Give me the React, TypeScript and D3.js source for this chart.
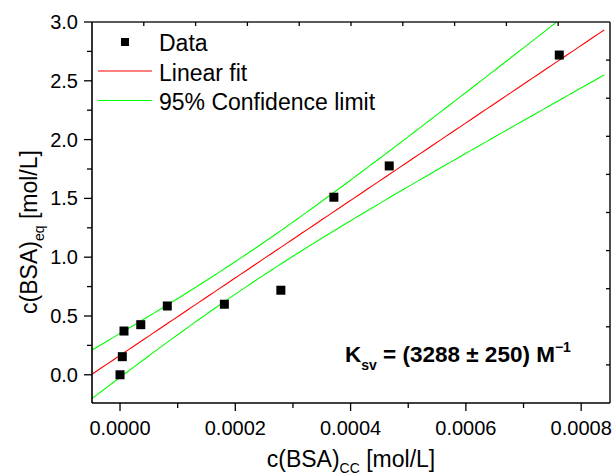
import React from "react";
import * as d3 from "d3";

// ---- data ----
const concCC: number[] = [0, 0.0000040, 0.0000069, 0.000036, 0.000082, 0.000181, 0.000279, 0.000371, 0.000467, 0.000762];
const concEq: number[] = [0.0, 0.154, 0.372, 0.426, 0.585, 0.600, 0.719, 1.510, 1.776, 2.719];
const xTicks: number[] = [0, 0.0002, 0.0004, 0.0006, 0.0008];
const xMinorTicks: number[] = [0.0001, 0.0003, 0.0005, 0.0007];
const yTicks: number[] = [0, 0.5, 1.0, 1.5, 2.0, 2.5, 3.0];
const yMinorTicks: number[] = [0.25, 0.75, 1.25, 1.75, 2.25, 2.75];
const fitRange: [number, number] = [-0.0000486, 0.00084];
const legendLabels: string[] = ["Data", "Linear fit", "95% Confidence limit"];
const T95_DF8 = 2.306;

const W = 612;
const H = 475;
const L = 92, R = 610, T = 22, B = 403;
const FONT = "'Liberation Sans', Arial, Helvetica, sans-serif";

// linear regression with 95% confidence band of the mean
function regression(xs: number[], ys: number[]) {
  const n = xs.length;
  const mx = d3.mean(xs)!;
  const my = d3.mean(ys)!;
  let sxx = 0, sxy = 0;
  xs.forEach((x, i) => { sxx += (x - mx) ** 2; sxy += (x - mx) * (ys[i] - my); });
  const b = sxy / sxx;
  const a = my - b * mx;
  let ssr = 0;
  xs.forEach((x, i) => { ssr += (ys[i] - a - b * x) ** 2; });
  const s = Math.sqrt(ssr / (n - 2));
  const half = (x: number) => T95_DF8 * s * Math.sqrt(1 / n + (x - mx) ** 2 / sxx);
  return { a, b, half };
}

export default function App() {
  const x = d3.scaleLinear().domain([-0.0000486, 0.00085]).range([L, R]);
  const y = d3.scaleLinear().domain([-0.24, 3.0]).range([B, T]);
  const reg = regression(concCC, concEq);
  const samples = d3.range(0, 101).map((i) => fitRange[0] + (fitRange[1] - fitRange[0]) * i / 100);
  const line = d3.line<[number, number]>().x((d) => x(d[0])).y((d) => y(d[1]));
  const fitPts = samples.map((v) => [v, reg.a + reg.b * v] as [number, number]);
  const upPts = samples.map((v) => [v, reg.a + reg.b * v + reg.half(v)] as [number, number]);
  const loPts = samples.map((v) => [v, reg.a + reg.b * v - reg.half(v)] as [number, number]);

  const topTicks = d3.range(1, 10).map((i) => L + (R - L) * i / 10);
  const rightTicks = d3.range(1, 10).map((i) => T + (B - T) * i / 10);
  const fx = d3.format(".4f");
  const fy = d3.format(".1f");
  const ms = 9;

  return (
    <svg width={W} height={H} style={{ position: "absolute", left: 0, top: 0, background: "#fff" }} fontFamily={FONT}>
      <defs>
        <clipPath id="plot"><rect x={L} y={T} width={R - L} height={B - T} /></clipPath>
      </defs>
      <rect x={0} y={0} width={W} height={H} fill="#fff" />

      {/* fit & confidence lines */}
      <g clipPath="url(#plot)" fill="none" strokeWidth={1.1}>
        <path d={line(upPts)!} stroke="#00ff00" />
        <path d={line(loPts)!} stroke="#00ff00" />
        <path d={line(fitPts)!} stroke="#ff0000" />
      </g>

      {/* data */}
      {concCC.map((c, i) => (
        <rect key={i} x={x(c) - ms / 2} y={y(concEq[i]) - ms / 2} width={ms} height={ms} fill="#000" />
      ))}

      {/* frame */}
      <g stroke="#000" strokeWidth={1.6} fill="none">
        <line x1={L} x2={R} y1={T} y2={T} stroke="#222" />
        <line x1={R} x2={R} y1={T} y2={B} stroke="#222" />
        <line x1={L} x2={L} y1={T} y2={B} />
        <line x1={L} x2={R} y1={B} y2={B} />
      </g>

      {/* ticks */}
      <g stroke="#000" strokeWidth={1.3}>
        {xTicks.map((t) => <line key={"xt" + t} x1={x(t)} x2={x(t)} y1={B} y2={B + 8} />)}
        {xMinorTicks.map((t) => <line key={"xm" + t} x1={x(t)} x2={x(t)} y1={B} y2={B + 5} />)}
        {yTicks.map((t) => <line key={"yt" + t} x1={L - 8} x2={L} y1={y(t)} y2={y(t)} />)}
        {yMinorTicks.map((t) => <line key={"ym" + t} x1={L - 5} x2={L} y1={y(t)} y2={y(t)} />)}
        {topTicks.map((p, i) => <line key={"tt" + i} x1={p} x2={p} y1={T} y2={T + 4} />)}
        {rightTicks.map((p, i) => <line key={"rt" + i} x1={R - 4} x2={R} y1={p} y2={p} />)}
      </g>

      {/* tick labels */}
      <g fontSize={20} fill="#000">
        {xTicks.map((t) => (
          <text key={"xl" + t} x={x(t)} y={435} textAnchor="middle">{fx(t)}</text>
        ))}
        {yTicks.map((t) => (
          <text key={"yl" + t} x={78} y={y(t) + 7} textAnchor="end">{fy(t)}</text>
        ))}
      </g>

      {/* axis titles */}
      <text x={(L + R) / 2} y={467} textAnchor="middle" fontSize={23} fill="#000">
        c(BSA)<tspan fontSize={14} dy={6}>CC</tspan><tspan dy={-6}> [mol/L]</tspan>
      </text>
      <text transform={`translate(37,232) rotate(-90)`} textAnchor="middle" fontSize={23} fill="#000">
        c(BSA)<tspan fontSize={14} dy={7}>eq</tspan><tspan dy={-7}> [mol/L]</tspan>
      </text>

      {/* legend */}
      <rect x={125 - 4} y={42 - 4} width={8} height={8} fill="#000" />
      <line x1={98} x2={152} y1={71} y2={71} stroke="#ff0000" strokeWidth={1.1} />
      <line x1={98} x2={152} y1={100.5} y2={100.5} stroke="#00ff00" strokeWidth={1.1} />
      {legendLabels.map((lab, i) => (
        <text key={lab} x={159} y={51 + i * 29.5} fontSize={23} fill="#000">{lab}</text>
      ))}

      {/* annotation */}
      <text x={345} y={362} fontSize={22.5} fontWeight="bold" fill="#000">
        K<tspan fontSize={14} dy={8}>sv</tspan><tspan dy={-8}> = (3288 ± 250) M</tspan><tspan fontSize={14} dy={-10}>−1</tspan>
      </text>
    </svg>
  );
}
